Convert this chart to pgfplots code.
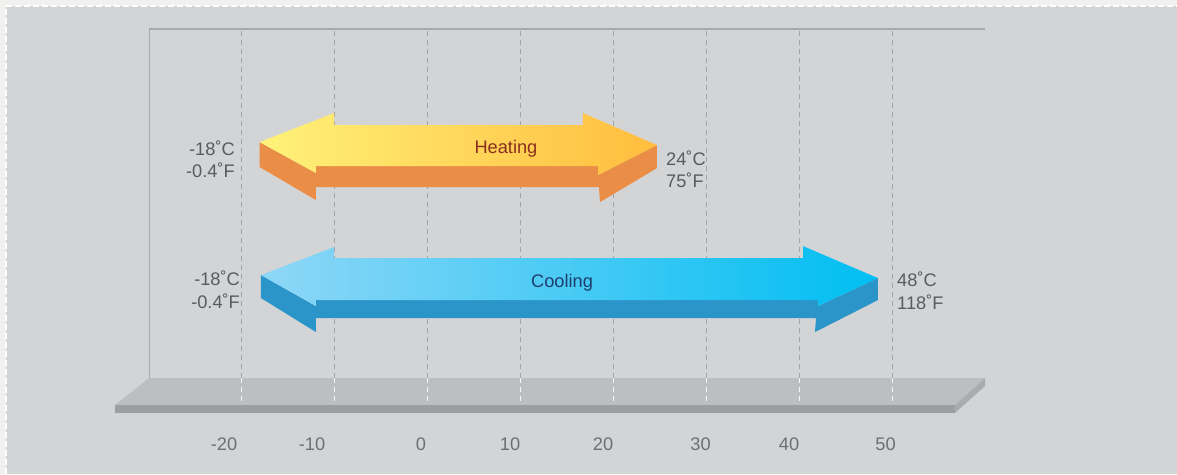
\documentclass[border=0pt]{standalone}
\usepackage{fontspec}
\setmainfont{Liberation Sans}
\usepackage{pgfplots}
\pgfplotsset{compat=1.18}
\definecolor{bg}{HTML}{D3D4D6}
\definecolor{outer}{HTML}{F1F1F0}
\definecolor{backline}{HTML}{A8A9AB}
\definecolor{gridc}{HTML}{A3A4A6}
\definecolor{floortop}{HTML}{BDBEC0}
\definecolor{floorfront}{HTML}{9D9EA1}
\definecolor{floorside}{HTML}{ABACAE}
\definecolor{heatL}{HTML}{FFF27A}
\definecolor{heatR}{HTML}{FFBD3D}
\definecolor{heatF}{HTML}{EA8D47}
\definecolor{coolL}{HTML}{8FD7F7}
\definecolor{coolR}{HTML}{00BEF2}
\definecolor{coolF}{HTML}{2B95C9}
\definecolor{heatT}{HTML}{8A2E1F}
\definecolor{coolT}{HTML}{1F3D6D}
\definecolor{labgray}{HTML}{5A5B5D}
\definecolor{tickgray}{HTML}{6E6F71}
\newcommand\tl[2]{\makebox[0pt]{\hspace*{#1}#2}}
\begin{document}
\begin{tikzpicture}
\begin{axis}[
  width=1177bp, height=474bp, scale only axis,
  xmin=-45.914, xmax=80.645, ymin=0, ymax=474,
  axis line style={draw=none}, major tick length=0pt,
  ytick=\empty,
  xtick={-20,-10,0,10,20,30,40,50},
  xticklabels={\tl{-34bp}{-20},\tl{-44bp}{-10},\tl{-12bp}{0},\tl{-20bp}{10},\tl{-20bp}{20},\tl{-11bp}{30},\tl{-20bp}{40},\tl{-13bp}{50}},
  xticklabel style={font=\fontsize{18.3}{22}\selectfont, text=tickgray, anchor=base, yshift=24bp},
  /pgf/number format/assume math mode=true,
  axis background/.style={fill=bg},
]
% outer strip and dashed border
\fill[outer] (axis cs:-45.914,0) rectangle (axis cs:-45.27,474);
\fill[outer] (axis cs:-45.914,468) rectangle (axis cs:80.645,474);
\draw[white, line width=1.5bp, dash pattern=on 6bp off 3bp] (axis cs:-45.27,0) -- (axis cs:-45.27,468) -- (axis cs:80.645,468);
% back plane
\addplot[backline, line width=1bp] coordinates {(-29.89,96) (-29.89,445)};
\addplot[backline, line width=2bp] coordinates {(-29.89,445) (60.0,445)};
% grid lines
\pgfplotsinvokeforeach{-20,-10,0,10,20,30,40,50}{
  \addplot[gridc, line width=1bp, dash pattern=on 5bp off 4bp] coordinates {(#1,96) (#1,445)};
}
% floor
\addplot[fill=floortop, draw=none] coordinates {(-29.89,96) (60.0,96) (56.77,69) (-33.55,69)} -- cycle;
\addplot[fill=floorfront, draw=none] coordinates {(-33.55,69) (56.77,69) (56.77,61) (-33.55,61)} -- cycle;
\addplot[fill=floorside, draw=none] coordinates {(56.77,69) (60.0,96) (60.0,88) (56.77,61)} -- cycle;
\pgfplotsinvokeforeach{-20,-10,0,10,20,30,40,50}{
  \addplot[white!85!floortop, line width=1bp, dash pattern=on 5bp off 4bp] coordinates {(#1,73) (#1,96)};
}
% heating arrow (-18 .. 24)
\addplot[fill=heatF, draw=none] coordinates {
 (-18.0,332) (-18.0,307) (-11.94,274) (-11.94,287) (18.49,287) (18.60,272)
 (24.73,306) (24.73,329) (18.39,299) (18.39,308) (-11.94,308) (-11.94,301)} -- cycle;
\addplot[draw=none, left color=heatL, right color=heatR] coordinates {
 (-18.0,332) (-10.0,361) (-10.0,349) (16.77,349) (16.77,361) (24.73,329)
 (18.39,299) (18.39,308) (-11.94,308) (-11.94,301)} -- cycle;
% cooling arrow (-18 .. 48)
\addplot[fill=coolF, draw=none] coordinates {
 (-17.85,199) (-17.85,176) (-11.94,142) (-11.94,156) (41.83,156) (41.72,142)
 (48.49,174) (48.49,196) (42.04,168) (42.04,174) (-11.94,174) (-11.94,168)} -- cycle;
\addplot[draw=none, left color=coolL, right color=coolR] coordinates {
 (-17.85,199) (-10.0,227) (-10.0,216) (40.43,216) (40.43,228) (48.49,196)
 (42.04,168) (42.04,174) (-11.94,174) (-11.94,168)} -- cycle;
% texts
\begin{scope}[every node/.style={font=\fontsize{18.3}{22}\selectfont, inner sep=0pt}]
\node[anchor=base, text=heatT] at (axis cs:8.49,321) {Heating};
\node[anchor=base, text=coolT] at (axis cs:14.52,187) {Cooling};
\node[anchor=base east, text=labgray] at (axis cs:-20.65,319) {-18˚C};
\node[anchor=base east, text=labgray] at (axis cs:-20.65,297) {-0.4˚F};
\node[anchor=base west, text=labgray] at (axis cs:25.7,309) {24˚C};
\node[anchor=base west, text=labgray] at (axis cs:25.7,287) {75˚F};
\node[anchor=base east, text=labgray] at (axis cs:-20.1,189) {-18˚C};
\node[anchor=base east, text=labgray] at (axis cs:-20.1,166) {-0.4˚F};
\node[anchor=base west, text=labgray] at (axis cs:50.54,188) {48˚C};
\node[anchor=base west, text=labgray] at (axis cs:50.54,165) {118˚F};
\end{scope}
\end{axis}
\end{tikzpicture}
\end{document}
